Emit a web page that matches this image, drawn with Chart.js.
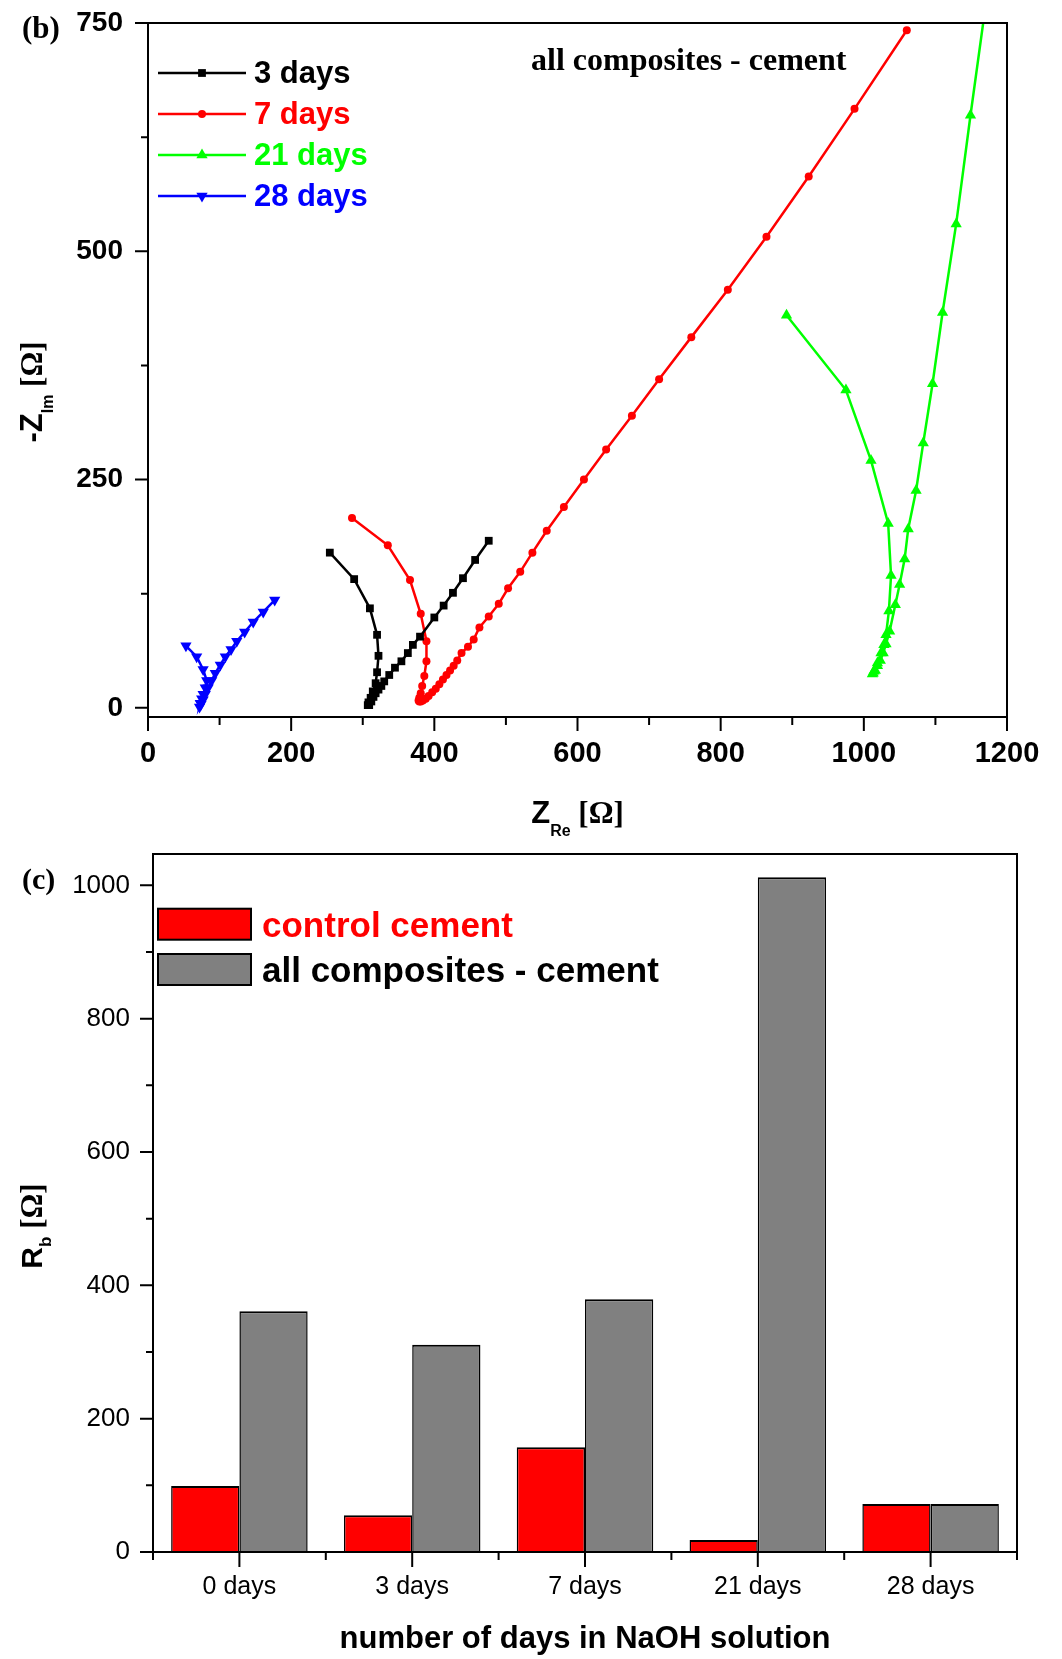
<!DOCTYPE html>
<html lang="en">
<head>
<meta charset="UTF-8">
<title>Nyquist plots and bulk resistance</title>
<script src="https://cdn.jsdelivr.net/npm/chart.js"></script>
<style>
    body {
        margin: 0;
        background: #ffffff;
    }
    #page {
        position: relative;
        width: 1062px;
        height: 1659px;
    }
    canvas {
        position: absolute;
        left: 0;
    }
    #nyquist { top: 0; }
    #bulk { top: 820px; }
</style>
</head>
<body>
<div id="page">
    <canvas id="nyquist" width="1062" height="850"></canvas>
    <canvas id="bulk" width="1062" height="839"></canvas>
</div>

<script>
// ---- (b) Nyquist plots, all composites - cement ----
const zre3  = [254, 288, 310, 320, 322, 320, 318, 314, 311, 308, 307, 309, 312, 315, 318, 322, 326, 330, 337, 345, 354, 363, 370, 380, 400, 413, 426, 440, 457, 476];
const zim3  = [170, 141, 109, 80, 57, 39, 27, 18, 11, 6, 3, 3, 7, 12, 16, 20, 24, 29, 36, 44, 51, 60, 69, 78, 99, 112, 126, 142, 162, 183];

const zre7  = [285, 335, 366, 381, 389, 389, 386, 383, 381, 379, 378, 379, 381, 384, 388, 392, 397, 402, 407, 412, 417, 422, 427, 432, 438, 447, 455, 463, 476, 490, 503, 520, 537, 557, 581, 609, 640, 676, 714, 759, 810, 864, 923, 987, 1060];
const zim7  = [208, 178, 140, 103, 73, 51, 35, 24, 16, 11, 8, 7, 7, 8, 10, 13, 17, 21, 26, 31, 36, 41, 46, 52, 60, 67, 75, 88, 100, 114, 131, 149, 170, 194, 220, 250, 283, 320, 360, 406, 458, 516, 582, 656, 742];

const zre21 = [892, 975, 1010, 1034, 1038, 1035, 1031, 1028, 1024, 1019, 1014, 1012, 1013, 1016, 1019, 1023, 1027, 1031, 1036, 1044, 1050, 1057, 1062, 1073, 1083, 1096, 1110, 1129, 1149, 1172];
const zim21 = [430, 348, 271, 202, 145, 106, 80, 69, 60, 49, 40, 37, 38, 41, 46, 52, 60, 70, 84, 113, 135, 163, 196, 238, 290, 355, 433, 530, 649, 780];

const zre28 = [53, 68, 77, 82, 80, 77, 75, 73, 72, 74, 77, 80, 84, 89, 94, 101, 108, 116, 124, 135, 147, 161, 177];
const zim28 = [68, 56, 42, 30, 22, 15, 10, 5, 1, 4, 9, 15, 22, 30, 38, 47, 56, 64, 73, 83, 94, 105, 118];

const zreTicks = [0, 200, 400, 600, 800, 1000, 1200];
const zreMinor = [100, 300, 500, 700, 900, 1100];
const zimTicks = [0, 250, 500, 750];
const zimMinor = [125, 375, 625];

// ---- (c) bulk resistance ----
const dayLabels   = ['0 days', '3 days', '7 days', '21 days', '28 days'];
const rbControl   = [99, 55, 157, 18, 72];
const rbComposite = [361, 311, 379, 1012, 72];
const rbTicks = [0, 200, 400, 600, 800, 1000];
const rbMinor = [100, 300, 500, 700, 900];

const SANS = "'Liberation Sans', Arial, sans-serif";
const SERIF = "'Liberation Serif', 'Times New Roman', serif";

// write several differently styled pieces of text one after another
function drawRuns(ctx, runs, x, y, align) {
    let total = 0;
    runs.forEach(r => {
        ctx.font = r.font;
        r.w = ctx.measureText(r.text).width;
        total += r.w;
    });
    let cx = align === 'center' ? x - total / 2 : x;
    ctx.textAlign = 'left';
    ctx.textBaseline = 'alphabetic';
    runs.forEach(r => {
        ctx.font = r.font;
        ctx.fillStyle = r.color || '#000';
        ctx.fillText(r.text, cx, y + (r.dy || 0));
        cx += r.w;
    });
}

// same shapes chart.js uses for its points, for the legend
function marker(ctx, style, rot, x, y, r, color) {
    ctx.fillStyle = color;
    ctx.beginPath();
    if (style === 'rect') {
        const s = r * Math.SQRT1_2;
        ctx.rect(x - s, y - s, 2 * s, 2 * s);
    } else if (style === 'circle') {
        ctx.arc(x, y, r, 0, Math.PI * 2);
    } else {
        let a = rot * Math.PI / 180;
        ctx.moveTo(x + Math.sin(a) * r, y - Math.cos(a) * r);
        a += 2 * Math.PI / 3;
        ctx.lineTo(x + Math.sin(a) * r, y - Math.cos(a) * r);
        a += 2 * Math.PI / 3;
        ctx.lineTo(x + Math.sin(a) * r, y - Math.cos(a) * r);
        ctx.closePath();
    }
    ctx.fill();
}

// keep the plot box where the layout padding puts it (no room reserved for edge labels)
function noEdgePadding(s) {
    s.paddingTop = 0;
    s.paddingBottom = 0;
    s.paddingLeft = 0;
    s.paddingRight = 0;
}

// box around the plot plus outward major/minor tick marks
const frameTicks = {
    id: 'frameTicks',
    afterDraw(chart, args, opts) {
        const { ctx, chartArea: a } = chart;
        const xs = chart.scales.x, ys = chart.scales.y;
        ctx.save();
        ctx.strokeStyle = '#000';
        ctx.lineWidth = 2;
        ctx.strokeRect(a.left, a.top, a.right - a.left, a.bottom - a.top);
        ctx.beginPath();
        opts.xMajor.forEach(v => {
            const p = xs.getPixelForValue(v);
            ctx.moveTo(p, a.bottom); ctx.lineTo(p, a.bottom + opts.xMajorLen);
        });
        opts.xMinor.forEach(v => {
            const p = xs.getPixelForValue(v);
            ctx.moveTo(p, a.bottom); ctx.lineTo(p, a.bottom + opts.xMinorLen);
        });
        opts.yMajor.forEach(v => {
            const p = ys.getPixelForValue(v);
            ctx.moveTo(a.left, p); ctx.lineTo(a.left - opts.yMajorLen, p);
        });
        opts.yMinor.forEach(v => {
            const p = ys.getPixelForValue(v);
            ctx.moveTo(a.left, p); ctx.lineTo(a.left - opts.yMinorLen, p);
        });
        ctx.stroke();
        ctx.restore();
    }
};

const nyquistSeries = [
    { label: '3 days',  xs: zre3,  ys: zim3,  color: '#000000', style: 'rect',     rot: 0,   r: 5.5 },
    { label: '7 days',  xs: zre7,  ys: zim7,  color: '#ff0000', style: 'circle',   rot: 0,   r: 4 },
    { label: '21 days', xs: zre21, ys: zim21, color: '#00ff00', style: 'triangle', rot: 0,   r: 6.5 },
    { label: '28 days', xs: zre28, ys: zim28, color: '#0000ff', style: 'triangle', rot: 180, r: 6.5 }
];

const nyquistText = {
    id: 'nyquistText',
    afterDraw(chart) {
        const ctx = chart.ctx;
        const a = chart.chartArea;
        ctx.save();
        // panel letter and sample note
        drawRuns(ctx, [{ text: '(b)', font: `bold 31px ${SERIF}` }], 22, 38, 'left');
        drawRuns(ctx, [{ text: 'all composites - cement', font: `bold 32px ${SERIF}` }], 531, 70, 'left');

        // legend: line with marker, then label in series colour
        const rows = [73, 114, 155, 196];
        chart.data.datasets.forEach((ds, i) => {
            const y = rows[i];
            ctx.strokeStyle = ds.borderColor;
            ctx.lineWidth = 2.5;
            ctx.beginPath();
            ctx.moveTo(158, y); ctx.lineTo(246, y);
            ctx.stroke();
            marker(ctx, ds.pointStyle, ds.pointRotation, 202, y, ds.pointRadius, ds.borderColor);
            ctx.font = `bold 31px ${SANS}`;
            ctx.fillStyle = ds.borderColor;
            ctx.textAlign = 'left';
            ctx.textBaseline = 'middle';
            ctx.fillText(ds.label, 254, y + 1);
        });

        // axis titles
        drawRuns(ctx, [
            { text: 'Z', font: `bold 31px ${SANS}` },
            { text: 'Re', font: `bold 16px ${SANS}`, dy: 13 },
            { text: ' [\u03A9]', font: `bold 31px ${SERIF}` }
        ], (a.left + a.right) / 2, 823, 'center');

        ctx.translate(42, 392);
        ctx.rotate(-Math.PI / 2);
        drawRuns(ctx, [
            { text: '-Z', font: `bold 31px ${SANS}` },
            { text: 'Im', font: `bold 16px ${SANS}`, dy: 11 },
            { text: ' [\u03A9]', font: `bold 31px ${SERIF}` }
        ], 0, 0, 'center');
        ctx.restore();
    }
};

new Chart(document.getElementById('nyquist'), {
    type: 'scatter',
    data: {
        datasets: nyquistSeries.map(s => ({
            label: s.label,
            data: s.xs.map((x, i) => ({ x: x, y: s.ys[i] })),
            showLine: true,
            tension: 0,
            borderColor: s.color,
            backgroundColor: s.color,
            borderWidth: 2.5,
            pointStyle: s.style,
            pointRotation: s.rot,
            pointRadius: s.r,
            pointBorderWidth: 0,
            clip: { left: 10, right: 10, top: 0, bottom: 10 }
        }))
    },
    options: {
        responsive: false,
        animation: false,
        events: [],
        layout: { padding: { top: 23, right: 55, left: 0, bottom: 0 } },
        scales: {
            x: {
                type: 'linear',
                min: 0,
                max: 1200,
                afterFit: s => { s.height = 133; noEdgePadding(s); },
                afterBuildTicks: s => { s.ticks = zreTicks.map(v => ({ value: v })); },
                grid: { display: false, drawTicks: false },
                border: { display: false },
                ticks: {
                    color: '#000',
                    font: { family: SANS, size: 29, weight: 'bold' },
                    padding: 20,
                    maxRotation: 0,
                    autoSkip: false,
                    callback: v => String(v)
                }
            },
            y: {
                type: 'linear',
                min: -10,
                max: 750,
                afterFit: s => { s.width = 148; noEdgePadding(s); },
                afterBuildTicks: s => { s.ticks = zimTicks.map(v => ({ value: v })); },
                grid: { display: false, drawTicks: false },
                border: { display: false },
                ticks: {
                    color: '#000',
                    font: { family: SANS, size: 28, weight: 'bold' },
                    padding: 25,
                    autoSkip: false,
                    callback: v => String(v)
                }
            }
        },
        plugins: {
            legend: { display: false },
            tooltip: { enabled: false },
            frameTicks: {
                xMajor: zreTicks, xMinor: zreMinor, xMajorLen: 14, xMinorLen: 8,
                yMajor: zimTicks, yMinor: zimMinor, yMajorLen: 13, yMinorLen: 7
            }
        }
    },
    plugins: [frameTicks, nyquistText]
});

// ---- bar chart ----
const BULK_TOP = 820;

const bulkText = {
    id: 'bulkText',
    afterDraw(chart) {
        const ctx = chart.ctx;
        const a = chart.chartArea;
        ctx.save();
        drawRuns(ctx, [{ text: '(c)', font: `bold 30px ${SERIF}` }], 22, 889 - BULK_TOP, 'left');

        // legend boxes
        const rows = [908.7 - BULK_TOP, 954 - BULK_TOP];
        chart.data.datasets.forEach((ds, i) => {
            const top = rows[i];
            ctx.fillStyle = ds.backgroundColor;
            ctx.fillRect(158, top, 93, 31);
            ctx.strokeStyle = '#000';
            ctx.lineWidth = 2;
            ctx.strokeRect(158, top, 93, 31);
            ctx.font = `bold 35px ${SANS}`;
            ctx.fillStyle = ds.legendColor;
            ctx.textAlign = 'left';
            ctx.textBaseline = 'alphabetic';
            ctx.fillText(ds.label, 262, top + 28);
        });

        drawRuns(ctx, [{ text: 'number of days in NaOH solution', font: `bold 31px ${SANS}` }],
            (a.left + a.right) / 2, 1648 - BULK_TOP, 'center');

        ctx.translate(42, 1226 - BULK_TOP);
        ctx.rotate(-Math.PI / 2);
        drawRuns(ctx, [
            { text: 'R', font: `bold 30px ${SANS}` },
            { text: 'b', font: `bold 17px ${SANS}`, dy: 9 },
            { text: ' [\u03A9]', font: `bold 31px ${SERIF}` }
        ], 0, 0, 'center');
        ctx.restore();
    }
};

const barBorder = { top: 2, left: 1.5, right: 1.5, bottom: 0 };

new Chart(document.getElementById('bulk'), {
    type: 'bar',
    data: {
        labels: dayLabels,
        datasets: [
            {
                label: 'control cement',
                data: rbControl,
                backgroundColor: '#ff0000',
                legendColor: '#ff0000',
                borderColor: '#000000',
                borderWidth: barBorder,
                categoryPercentage: 0.79,
                barPercentage: 1.0
            },
            {
                label: 'all composites - cement',
                data: rbComposite,
                backgroundColor: '#808080',
                legendColor: '#000000',
                borderColor: '#000000',
                borderWidth: barBorder,
                categoryPercentage: 0.79,
                barPercentage: 1.0
            }
        ]
    },
    options: {
        responsive: false,
        animation: false,
        events: [],
        layout: { padding: { top: 34, right: 45, left: 0, bottom: 0 } },
        scales: {
            x: {
                afterFit: s => { s.height = 107; noEdgePadding(s); },
                grid: { display: false, drawTicks: false },
                border: { display: false },
                ticks: {
                    color: '#000',
                    font: { family: SANS, size: 25 },
                    padding: 20,
                    maxRotation: 0,
                    autoSkip: false
                }
            },
            y: {
                min: 0,
                max: 1047,
                afterFit: s => { s.width = 153; noEdgePadding(s); },
                afterBuildTicks: s => { s.ticks = rbTicks.map(v => ({ value: v })); },
                grid: { display: false, drawTicks: false },
                border: { display: false },
                ticks: {
                    color: '#000',
                    font: { family: SANS, size: 26 },
                    padding: 23,
                    autoSkip: false,
                    callback: v => String(v)
                }
            }
        },
        plugins: {
            legend: { display: false },
            tooltip: { enabled: false },
            frameTicks: {
                xMajor: [0, 1, 2, 3, 4], xMinor: [-0.5, 0.5, 1.5, 2.5, 3.5, 4.5], xMajorLen: 15, xMinorLen: 8,
                yMajor: rbTicks, yMinor: rbMinor, yMajorLen: 13, yMinorLen: 7
            }
        }
    },
    plugins: [frameTicks, bulkText]
});
</script>
</body>
</html>
